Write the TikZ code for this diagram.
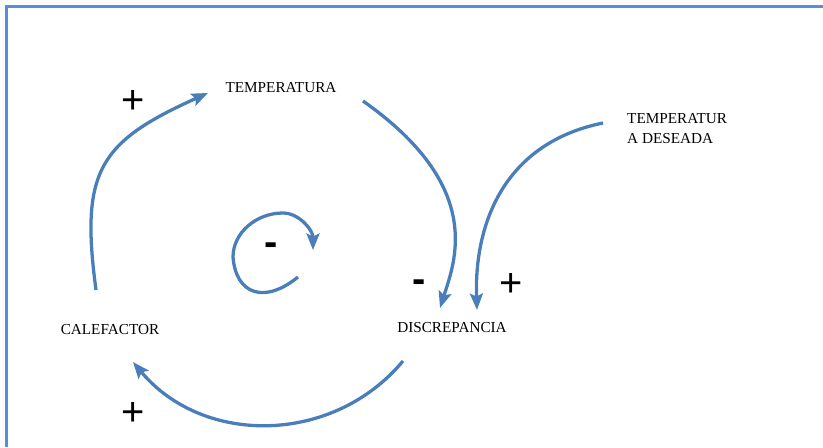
\documentclass[tikz,border=0pt]{standalone}
\usepackage{fontspec}
\setmainfont{Liberation Serif}
\newfontfamily\signfont{Liberation Sans}
\usetikzlibrary{arrows.meta}
\definecolor{arcblue}{RGB}{74,126,187}
\definecolor{frameblue}{RGB}{91,141,214}
\tikzset{
  causal/.style={-{Stealth[length=14pt,width=11pt,inset=2.5pt]}, line width=2.8pt, draw=arcblue},
  varname/.style={font=\fontsize{13}{17}\selectfont, inner sep=0pt},
  polarity/.style={font=\signfont\fontsize{34}{34}\selectfont, inner sep=0pt}
}

\begin{document}
\begin{tikzpicture}[x=0.03cm, y=0.03cm]
  \useasboundingbox (0,0) rectangle (823,447);
  \draw[frameblue, line width=2pt] (6.5,0) -- (6.5,440.5) -- (823,440.5);

  \node[varname] (temp) at (281,359) {TEMPERATURA};
  \node[varname, align=left, anchor=west] (tdes) at (627,318) {TEMPERATUR\\A DESEADA};
  \node[varname] (calef) at (110,117) {CALEFACTOR};
  \node[varname] (discr) at (452,119) {DISCREPANCIA};

  % ends of the arcs
  \coordinate (calef top) at (96,157);
  \coordinate (temp left) at (208,354);
  \coordinate (temp right) at (363,346);
  \coordinate (discr top) at (440,139);
  \coordinate (tdes left) at (603,324);
  \coordinate (discr top2) at (477,137);
  \coordinate (discr bottom) at (403,86);
  \coordinate (calef bottom) at (133,85);
  \coordinate (inner start) at (298,170);
  \coordinate (inner left) at (233,190);
  \coordinate (inner top) at (283,234);
  \coordinate (inner end) at (313,197);

  \draw[causal] (calef top) .. controls +(-16,119) and +(-109,-49) .. (temp left);
  \draw[causal] (temp right) .. controls +(122,-86) and +(15,47) .. (discr top);
  \draw[causal] (tdes left) .. controls +(-99,-20) and +(-3,86) .. (discr top2);
  \draw[causal] (discr bottom) .. controls +(-70,-84) and +(70,-84) .. (calef bottom);
  \draw[causal] (inner start) .. controls +(-33,-27) and +(3,-38) .. (inner left)
    .. controls +(0,24) and +(-27,0) .. (inner top)
    .. controls +(16,0) and +(0,20) .. (inner end);

  \node[polarity] (plus1) at (133,345) {+};
  \node[polarity] (plus2) at (511,162) {+};
  \node[polarity] (plus3) at (133,33) {+};
  \node[polarity, font=\signfont\bfseries\fontsize{34}{34}\selectfont] (minus1) at (419,161) {-};
  \node[polarity, font=\signfont\bfseries\fontsize{34}{34}\selectfont] (minus2) at (271,198) {-};
\end{tikzpicture}
\end{document}
